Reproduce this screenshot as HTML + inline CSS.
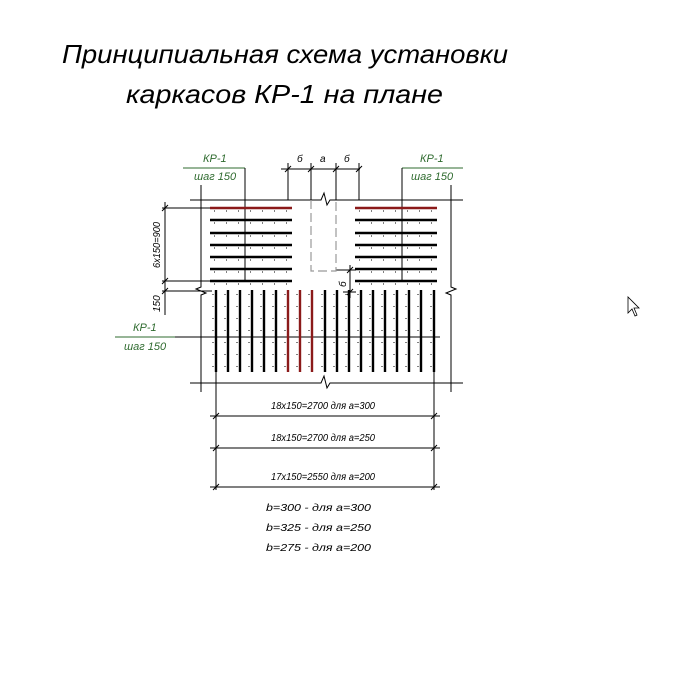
<!DOCTYPE html>
<html><head><meta charset="utf-8"><style>
html,body{margin:0;padding:0;background:#fff;}
svg{display:block}
text{font-family:"Liberation Sans",sans-serif;font-style:italic;}
</style></head><body>
<svg width="684" height="674" viewBox="0 0 684 674" xmlns="http://www.w3.org/2000/svg">
<rect width="684" height="674" fill="#fff"/>
<!-- title -->
<text x="62" y="63" font-size="26" textLength="446" lengthAdjust="spacingAndGlyphs" fill="#000" font-weight="normal">Принципиальная схема установки</text>
<text x="126" y="103" font-size="26" textLength="317" lengthAdjust="spacingAndGlyphs" fill="#000">каркасов КР-1 на плане</text>

<g stroke="#000" stroke-width="1" fill="none">
<!-- top boundary with break -->
<polyline points="190,200 321,200 324,193 327,205 330,200 463,200"/>
<!-- bottom boundary with break -->
<polyline points="190,383 321,383 324,376 327,388 330,383 463,383"/>
<!-- left vertical with break -->
<polyline points="201,185 201,287 196,289 206,293 201,295 201,392"/>
<polyline points="451,185 451,287 456,289 446,293 451,295 451,392"/>
<!-- KP leaders -->
<line x1="183" y1="168" x2="245" y2="168" stroke="#2f6b2f"/>
<line x1="245" y1="168" x2="245" y2="282"/>
<line x1="402" y1="168" x2="463" y2="168" stroke="#2f6b2f"/>
<line x1="402" y1="168" x2="402" y2="282"/>
<line x1="115" y1="337" x2="175" y2="337" stroke="#2f6b2f"/>
<line x1="175" y1="337" x2="440" y2="337"/>
<!-- top dims -->
<line x1="281" y1="169" x2="360" y2="169"/>
<line x1="288" y1="163" x2="288" y2="200"/>
<line x1="311" y1="163" x2="311" y2="200"/>
<line x1="336" y1="163" x2="336" y2="200"/>
<line x1="359" y1="163" x2="359" y2="200"/>
<!-- left dims -->
<line x1="165" y1="202" x2="165" y2="315"/>
<line x1="162" y1="208" x2="212" y2="208"/>
<line x1="162" y1="281" x2="212" y2="281"/>
<line x1="162" y1="291" x2="212" y2="291"/>
<!-- b dim -->
<line x1="350" y1="265" x2="350" y2="298"/>
<line x1="336" y1="270" x2="356" y2="270"/>
<line x1="343" y1="292" x2="356" y2="292"/>
<!-- bottom dims -->
<line x1="216" y1="372" x2="216" y2="490"/>
<line x1="434" y1="372" x2="434" y2="490"/>
<line x1="210" y1="416" x2="440" y2="416"/>
<line x1="210" y1="448" x2="440" y2="448"/>
<line x1="210" y1="487" x2="440" y2="487"/>
<!-- ticks -->
<g stroke-width="1">
<line x1="285" y1="172" x2="291" y2="166"/><line x1="308" y1="172" x2="314" y2="166"/><line x1="333" y1="172" x2="339" y2="166"/><line x1="356" y1="172" x2="362" y2="166"/>
<line x1="162" y1="211" x2="168" y2="205"/><line x1="162" y1="284" x2="168" y2="278"/><line x1="162" y1="294" x2="168" y2="288"/>
<line x1="213" y1="419" x2="219" y2="413"/><line x1="431" y1="419" x2="437" y2="413"/>
<line x1="213" y1="451" x2="219" y2="445"/><line x1="431" y1="451" x2="437" y2="445"/>
<line x1="213" y1="490" x2="219" y2="484"/><line x1="431" y1="490" x2="437" y2="484"/>
<line x1="347" y1="273" x2="353" y2="267"/><line x1="347" y1="295" x2="353" y2="289"/>
</g>
</g>
<!-- dashed opening -->
<polyline points="311,200 311,271 336,271 336,200" fill="none" stroke="#999" stroke-width="1.2" stroke-dasharray="9,4"/>

<!-- horizontal bars -->
<g stroke="#000" stroke-width="2.4">
<line x1="210" y1="208" x2="292" y2="208" stroke="#8b1a1a"/>
<line x1="355" y1="208" x2="437" y2="208" stroke="#8b1a1a"/>
<line x1="210" y1="220" x2="292" y2="220"/><line x1="355" y1="220" x2="437" y2="220"/>
<line x1="210" y1="233" x2="292" y2="233"/><line x1="355" y1="233" x2="437" y2="233"/>
<line x1="210" y1="245" x2="292" y2="245"/><line x1="355" y1="245" x2="437" y2="245"/>
<line x1="210" y1="257" x2="292" y2="257"/><line x1="355" y1="257" x2="437" y2="257"/>
<line x1="210" y1="269" x2="292" y2="269"/><line x1="355" y1="269" x2="437" y2="269"/>
<line x1="210" y1="281" x2="292" y2="281"/><line x1="355" y1="281" x2="437" y2="281"/>
</g>
<!-- little ticks under horizontal bars -->
<g stroke="#000" stroke-width="1" stroke-dasharray="1,11">
<line x1="214" y1="211" x2="292" y2="211"/><line x1="359" y1="211" x2="437" y2="211"/>
<line x1="214" y1="223" x2="292" y2="223"/><line x1="359" y1="223" x2="437" y2="223"/>
<line x1="214" y1="236" x2="292" y2="236"/><line x1="359" y1="236" x2="437" y2="236"/>
<line x1="214" y1="248" x2="292" y2="248"/><line x1="359" y1="248" x2="437" y2="248"/>
<line x1="214" y1="260" x2="292" y2="260"/><line x1="359" y1="260" x2="437" y2="260"/>
<line x1="214" y1="272" x2="292" y2="272"/><line x1="359" y1="272" x2="437" y2="272"/>
<line x1="214" y1="284" x2="292" y2="284"/><line x1="359" y1="284" x2="437" y2="284"/>
</g>
<!-- vertical bars -->
<g stroke="#000" stroke-width="2.4">
<line x1="216" y1="290" x2="216" y2="372"/><line x1="228" y1="290" x2="228" y2="372"/>
<line x1="240" y1="290" x2="240" y2="372"/><line x1="252" y1="290" x2="252" y2="372"/>
<line x1="264" y1="290" x2="264" y2="372"/><line x1="276" y1="290" x2="276" y2="372"/>
<line x1="288" y1="290" x2="288" y2="372" stroke="#8b1a1a"/><line x1="300" y1="290" x2="300" y2="372" stroke="#8b1a1a"/>
<line x1="312" y1="290" x2="312" y2="372" stroke="#8b1a1a"/><line x1="325" y1="290" x2="325" y2="372"/>
<line x1="337" y1="290" x2="337" y2="372"/><line x1="349" y1="290" x2="349" y2="372"/>
<line x1="361" y1="290" x2="361" y2="372"/><line x1="373" y1="290" x2="373" y2="372"/>
<line x1="385" y1="290" x2="385" y2="372"/><line x1="397" y1="290" x2="397" y2="372"/>
<line x1="409" y1="290" x2="409" y2="372"/><line x1="421" y1="290" x2="421" y2="372"/>
<line x1="434" y1="290" x2="434" y2="372"/>
</g>
<!-- ticks beside vertical bars -->
<g stroke="#000" stroke-width="1" stroke-dasharray="1,11">
<line x1="213" y1="294" x2="213" y2="372"/><line x1="225" y1="294" x2="225" y2="372"/><line x1="237" y1="294" x2="237" y2="372"/>
<line x1="249" y1="294" x2="249" y2="372"/><line x1="261" y1="294" x2="261" y2="372"/><line x1="273" y1="294" x2="273" y2="372"/>
<line x1="285" y1="294" x2="285" y2="372"/><line x1="297" y1="294" x2="297" y2="372"/><line x1="309" y1="294" x2="309" y2="372"/>
<line x1="322" y1="294" x2="322" y2="372"/><line x1="334" y1="294" x2="334" y2="372"/><line x1="346" y1="294" x2="346" y2="372"/>
<line x1="358" y1="294" x2="358" y2="372"/><line x1="370" y1="294" x2="370" y2="372"/><line x1="382" y1="294" x2="382" y2="372"/>
<line x1="394" y1="294" x2="394" y2="372"/><line x1="406" y1="294" x2="406" y2="372"/><line x1="418" y1="294" x2="418" y2="372"/>
<line x1="431" y1="294" x2="431" y2="372"/>
</g>

<!-- KP labels -->
<g fill="#2f6b2f" font-size="11">
<text x="203" y="162">КР-1</text>
<text x="194" y="180">шаг 150</text>
<text x="420" y="162">КР-1</text>
<text x="411" y="180">шаг 150</text>
<text x="133" y="331">КР-1</text>
<text x="124" y="350">шаг 150</text>
</g>
<!-- dim labels -->
<g fill="#000" font-size="10">
<text x="297" y="162">б</text>
<text x="320" y="162">а</text>
<text x="344" y="162">б</text>
<text transform="translate(160,268) rotate(-90)" textLength="46" lengthAdjust="spacingAndGlyphs">6x150=900</text>
<text transform="translate(160,312) rotate(-90)">150</text>
<text transform="translate(346,287) rotate(-90)">б</text>
<text x="271" y="409" textLength="104" lengthAdjust="spacingAndGlyphs">18x150=2700 для а=300</text>
<text x="271" y="441" textLength="104" lengthAdjust="spacingAndGlyphs">18x150=2700 для а=250</text>
<text x="271" y="480" textLength="104" lengthAdjust="spacingAndGlyphs">17x150=2550 для а=200</text>
<text x="266" y="511" textLength="105" lengthAdjust="spacingAndGlyphs">b=300 - для а=300</text>
<text x="266" y="531" textLength="105" lengthAdjust="spacingAndGlyphs">b=325 - для а=250</text>
<text x="266" y="551" textLength="105" lengthAdjust="spacingAndGlyphs">b=275 - для а=200</text>
</g>
<!-- cursor -->
<path d="M628,297 L628,313 L632,309 L635,316 L637,315 L634,308 L639,308 Z" fill="#fff" stroke="#000" stroke-width="0.8"/>
</svg>
</body></html>
